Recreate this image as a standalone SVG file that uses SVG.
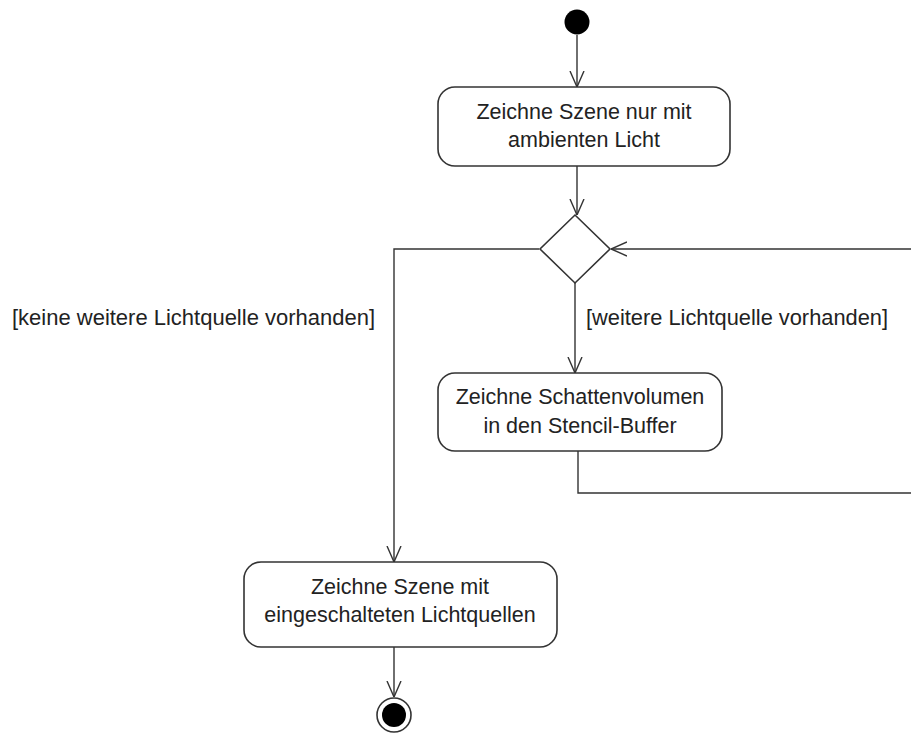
<svg xmlns="http://www.w3.org/2000/svg" width="911" height="734" viewBox="0 0 911 734">
<defs>
<style>
.box{fill:#fff;stroke:#333;stroke-width:1.6}
.ln{fill:none;stroke:#333;stroke-width:1.4}
.t{font-family:"Liberation Sans",Arial,sans-serif;font-size:21.5px;fill:#222;text-anchor:middle}
.lbl{font-family:"Liberation Sans",Arial,sans-serif;font-size:22px;fill:#222}
</style>
<marker id="arr" viewBox="0 0 16 16" refX="16" refY="8" markerWidth="16" markerHeight="16" markerUnits="userSpaceOnUse" orient="auto">
<path d="M0,1 L16,8 L0,15" fill="none" stroke="#333" stroke-width="1.4"/>
</marker>
</defs>
<rect width="911" height="734" fill="#fff"/>
<g id="connectors">
<path class="ln" d="M577,35 V87" marker-end="url(#arr)"/>
<path class="ln" d="M577,166 V215" marker-end="url(#arr)"/>
<path class="ln" d="M539,249 H394 V562" marker-end="url(#arr)"/>
<path class="ln" d="M575,283 V373" marker-end="url(#arr)"/>
<path class="ln" d="M578,451 V493 H914 V249 H611" marker-end="url(#arr)"/>
<path class="ln" d="M394,647 V697" marker-end="url(#arr)"/>
<text class="lbl" x="586" y="325" textLength="302" lengthAdjust="spacingAndGlyphs">[weitere Lichtquelle vorhanden]</text>
<text class="lbl" x="12" y="325" textLength="363" lengthAdjust="spacingAndGlyphs">[keine weitere Lichtquelle vorhanden]</text>
</g>
<g id="start"><circle cx="577" cy="22" r="12.5" fill="#000"/></g>
<g id="box1">
<rect class="box" x="438" y="87" width="292" height="79" rx="17"/>
<text class="t" x="584" y="119">Zeichne Szene nur mit</text>
<text class="t" x="584" y="147">ambienten Licht</text>
</g>
<g id="decision"><path class="box" d="M575,215 L610,249 L575,283 L540,249 Z"/></g>
<g id="box2">
<rect class="box" x="438" y="373" width="284" height="78" rx="17"/>
<text class="t" x="580" y="404">Zeichne Schattenvolumen</text>
<text class="t" x="580" y="433">in den Stencil-Buffer</text>
</g>
<g id="box3">
<rect class="box" x="244" y="562" width="313" height="85" rx="17"/>
<text class="t" x="400" y="594">Zeichne Szene mit</text>
<text class="t" x="400" y="622">eingeschalteten Lichtquellen</text>
</g>
<g id="end">
<circle cx="394" cy="715" r="17" fill="#fff" stroke="#333" stroke-width="1.6"/>
<circle cx="394" cy="715" r="12" fill="#000"/>
</g>
</svg>
